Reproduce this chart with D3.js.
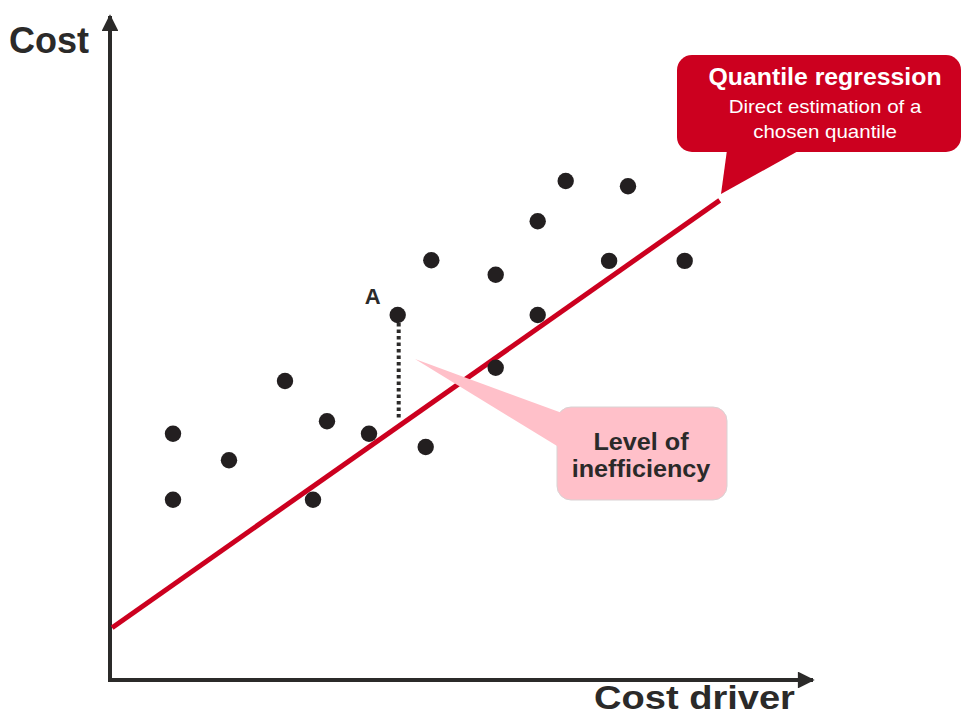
<!DOCTYPE html>
<html>
<head>
<meta charset="utf-8">
<script src="https://cdn.jsdelivr.net/npm/d3@7"></script>
<style>
  html, body { margin: 0; padding: 0; background: #ffffff; }
  svg { display: block; font-family: "Liberation Sans", Arial, sans-serif; }
</style>
</head>
<body>
<svg id="chart" width="963" height="717"></svg>
<script>
// Observations: cost driver (x) and cost (y), arbitrary units 0–100
const driverValues = [9, 9, 17, 25, 29, 31, 37, 41.1, 45.1, 45.9, 55.1, 55.1, 61.1, 61.1, 65.1, 71.3, 74, 82.1];
const costValues   = [37.3, 27.3, 33.3, 45.3, 27.3, 39.2, 37.3, 55.3, 35.3, 63.6, 61.4, 47.3, 69.5, 55.3, 75.6, 63.5, 74.8, 63.5];

// Fitted quantile line: intercept and slope, drawn over this driver range
const quantileIntercept = 7.7;
const quantileSlope = 0.746;
const quantileRange = [0.3, 87.1];

// Highlighted observation "A" (index into the arrays above)
const highlightIndex = 7;
const highlightLabel = "A";

// Axis titles and callout text
const yTitle = "Cost";
const xTitle = "Cost driver";
const quantileTitle = "Quantile regression";
const quantileLines = ["Direct estimation of a", "chosen quantile"];
const inefficiencyLines = ["Level of", "inefficiency"];

const svg = d3.select("#chart");
const dark = "#2b2a29";
const red = "#cc001f";
const pink = "#ffc0c9";

const x = d3.scaleLinear().domain([0, 100]).range([110, 810]);
const y = d3.scaleLinear().domain([0, 100]).range([680, 20]);
const fit = v => quantileIntercept + quantileSlope * v;

// Axes with arrowheads
const defs = svg.append("defs");
defs.append("marker")
  .attr("id", "arrow")
  .attr("viewBox", "0 0 10 10")
  .attr("refX", 9).attr("refY", 5)
  .attr("markerWidth", 4.6).attr("markerHeight", 4.2)
  .attr("markerUnits", "strokeWidth")
  .attr("orient", "auto")
  .append("path").attr("d", "M0,0 L10,5 L0,10 Z").attr("fill", dark);

svg.append("path")
  .attr("d", d3.line()([[x(0), y(0)], [x(0), 16]]))
  .attr("stroke", dark).attr("stroke-width", 4).attr("fill", "none")
  .attr("marker-end", "url(#arrow)");
svg.append("path")
  .attr("d", d3.line()([[x(0) - 2, y(0)], [813, y(0)]]))
  .attr("stroke", dark).attr("stroke-width", 4).attr("fill", "none")
  .attr("marker-end", "url(#arrow)");

// Axis titles
svg.append("text")
  .attr("x", 9).attr("y", 53)
  .attr("font-size", 36).attr("font-weight", "bold").attr("fill", dark)
  .text(yTitle);
svg.append("text")
  .attr("transform", "translate(594,709) scale(1.12,1)")
  .attr("font-size", 34).attr("font-weight", "bold").attr("fill", dark)
  .text(xTitle);

// Distance from observation A down to the fitted line
const hx = driverValues[highlightIndex], hy = costValues[highlightIndex];
svg.append("line")
  .attr("x1", x(hx) + 1).attr("x2", x(hx) + 1)
  .attr("y1", y(hy) + 8).attr("y2", y(fit(hx)) - 8)
  .attr("stroke", dark).attr("stroke-width", 4)
  .attr("stroke-dasharray", "3.5,3");

// Quantile regression line
svg.append("line")
  .attr("x1", x(quantileRange[0])).attr("y1", y(fit(quantileRange[0])))
  .attr("x2", x(quantileRange[1])).attr("y2", y(fit(quantileRange[1])))
  .attr("stroke", red).attr("stroke-width", 5);

// Observations
svg.append("g").selectAll("circle")
  .data(driverValues.map((d, i) => [d, costValues[i]]))
  .join("circle")
  .attr("cx", d => x(d[0])).attr("cy", d => y(d[1]))
  .attr("r", 8.2).attr("fill", "#231f20");

svg.append("text")
  .attr("x", x(hx) - 33).attr("y", y(hy) - 11)
  .attr("font-size", 22).attr("font-weight", "bold").attr("fill", dark)
  .text(highlightLabel);

// "Level of inefficiency" callout
svg.append("rect")
  .attr("x", 557).attr("y", 407).attr("width", 170).attr("height", 93)
  .attr("rx", 14)
  .attr("fill", pink).attr("stroke", "#d9d2d3").attr("stroke-width", 1);
svg.append("path")
  .attr("d", "M415,359 L562,413 L562,449 Z")
  .attr("fill", pink);
svg.append("g").selectAll("text")
  .data(inefficiencyLines)
  .join("text")
  .attr("transform", (d, i) => `translate(641,${450 + i * 27}) scale(1.05,1)`)
  .attr("text-anchor", "middle")
  .attr("font-size", 24).attr("font-weight", "bold").attr("fill", dark)
  .text(d => d);

// "Quantile regression" callout
svg.append("rect")
  .attr("x", 677).attr("y", 55).attr("width", 284).attr("height", 97)
  .attr("rx", 15).attr("fill", red);
svg.append("path")
  .attr("d", "M727,150 L800,150 L721,194 Z")
  .attr("fill", red);
svg.append("text")
  .attr("transform", "translate(825,85) scale(1.08,1)")
  .attr("text-anchor", "middle")
  .attr("font-size", 23).attr("font-weight", "bold").attr("fill", "#ffffff")
  .text(quantileTitle);
svg.append("g").selectAll("text")
  .data(quantileLines)
  .join("text")
  .attr("transform", (d, i) => `translate(825,${113 + i * 25}) scale(1.14,1)`)
  .attr("text-anchor", "middle")
  .attr("font-size", 18).attr("fill", "#ffffff")
  .text(d => d);
</script>
</body>
</html>
